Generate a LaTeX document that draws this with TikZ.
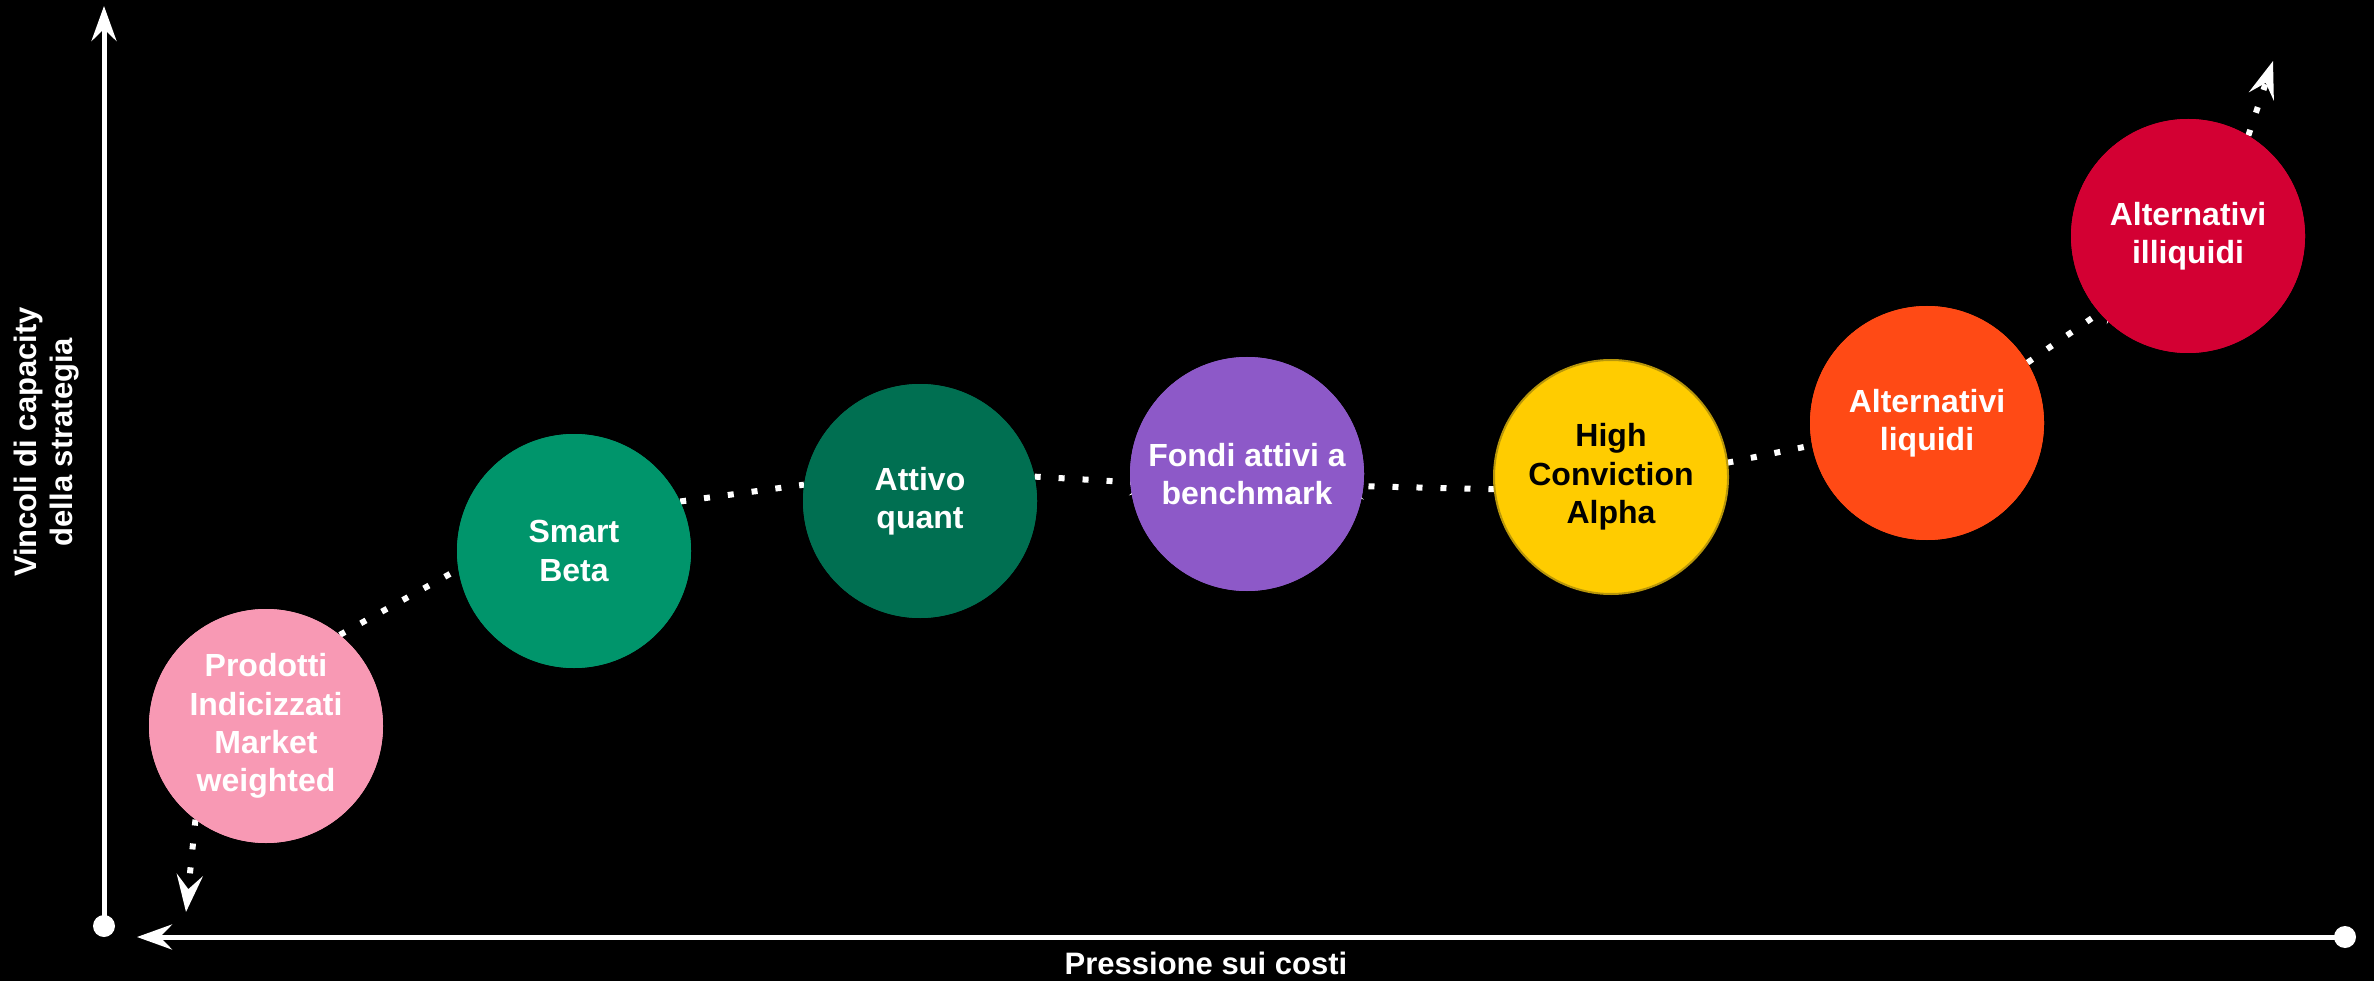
\documentclass[tikz,border=0pt]{standalone}
\usepackage{fontspec}
\setmainfont{Liberation Sans}
\usetikzlibrary{arrows.meta}
\definecolor{cpink}{HTML}{F899B4}
\definecolor{csmart}{HTML}{00956B}
\definecolor{cquant}{HTML}{006F51}
\definecolor{cfondi}{HTML}{8D59C8}
\definecolor{chc}{HTML}{FFCC00}
\definecolor{chcb}{HTML}{B8960A}
\definecolor{cliq}{HTML}{FF4A15}
\definecolor{cill}{HTML}{D30033}
\tikzset{
  bubble/.style={circle, minimum size=234pt, inner sep=0pt, align=center,
    font=\fontsize{32}{38.4}\selectfont\bfseries, text=white},
  dotline/.style={white, line width=6pt, line cap=butt, dash pattern=on 6pt off 18pt},
  tipend/.style={-{Stealth[length=37pt,width=26pt,inset=14pt]}},
  hiddentip/.style={-{Stealth[length=37pt,width=26pt,inset=14pt]}, shorten >=-37pt},
  axisline/.style={white, line width=5pt, -{Stealth[length=35pt,width=25pt,inset=12pt]}},
  axisdot/.style={circle, fill=white, minimum size=22pt, inner sep=0pt},
  axislabel/.style={text=white, align=center, font=\fontsize{31}{36}\selectfont\bfseries}
}
\begin{document}
\begin{tikzpicture}[x=1pt,y=-1pt]
\fill[black] (0,0) rectangle (2374,981);
\useasboundingbox (0,0) rectangle (2374,981);
% axes
\node[axisdot] (vdot) at (104,926) {};
\coordinate (vtip) at (104,6);
\draw[axisline] (vdot.center) -- (vtip);
\node[axisdot] (hdot) at (2345,937) {};
\coordinate (htip) at (137,937);
\draw[axisline] (hdot.center) -- (htip);
\node[axislabel, rotate=90] (ylab) at (47,442) {Vincoli di capacity\\della strategia};
\node[axislabel] (xlab) at (1206,963) {Pressione sui costi};
% bubble positions (drawn later, on top of connectors)
\path (266,726) node[bubble, fill=cpink] (pink) {}
      (574,551) node[bubble, fill=csmart] (smart) {}
      (920,501) node[bubble, fill=cquant] (quant) {}
      (1247,474) node[bubble, fill=cfondi] (fondi) {}
      (1611,477) node[bubble, fill=chc] (hc) {}
      (1927,423) node[bubble, fill=cliq] (liq) {}
      (2188,236) node[bubble, fill=cill] (ill) {};
\coordinate (tipA) at (186,912);
\coordinate (tipB) at (2273,61);
% connectors
\draw[dotline, tipend] (pink.-127) -- (tipA);
\draw[dotline] (pink.51) -- (smart.-171.5);
\draw[dotline] (smart.25) -- (quant.172);
\draw[dotline, hiddentip] (quant.12) -- (fondi.-176.6);
\draw[dotline, hiddentip] (hc.-174.6) -- (fondi.-6.4);
\draw[dotline] (hc.7) -- (liq.-169);
\draw[dotline, hiddentip] (liq.31) -- (ill.-139);
\draw[dotline, tipend] (ill.59) -- (tipB);
% bubbles on top
\node[bubble, fill=cpink] at (pink) {Prodotti\\Indicizzati\\Market\\weighted};
\node[bubble, fill=csmart] at (smart) {Smart\\Beta};
\node[bubble, fill=cquant] at (quant) {Attivo\\quant};
\node[bubble, fill=cfondi] at (fondi) {Fondi attivi a\\benchmark};
\node[bubble, fill=chc, draw=chcb, line width=2pt, text=black] at (hc) {High\\Conviction\\Alpha};
\node[bubble, fill=cliq] at (liq) {Alternativi\\liquidi};
\node[bubble, fill=cill] at (ill) {Alternativi\\illiquidi};
\end{tikzpicture}
\end{document}
